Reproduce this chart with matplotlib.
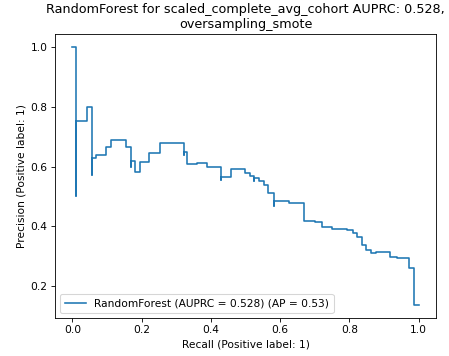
import matplotlib
matplotlib.use("Agg")
import matplotlib.pyplot as plt
import numpy as np

# Precision-recall curve points (increasing recall order)
recall = [0.0, 0.012, 0.012, 0.042, 0.056, 0.056, 0.067, 0.096, 0.111, 0.154,
          0.168, 0.168, 0.181, 0.194, 0.222, 0.252, 0.321, 0.321, 0.330, 0.361,
          0.390, 0.429, 0.429, 0.458, 0.499, 0.513, 0.525, 0.525, 0.540, 0.554,
          0.566, 0.582, 0.582, 0.625, 0.669, 0.700, 0.720, 0.750, 0.792, 0.809,
          0.822, 0.837, 0.849, 0.862, 0.878, 0.918, 0.936, 0.972, 0.987, 1.0]
precision = [1.0, 1.0, 0.50, 0.752, 0.80, 0.572, 0.628, 0.639, 0.667, 0.689,
             0.667, 0.60, 0.620, 0.583, 0.616, 0.644, 0.678, 0.640, 0.650, 0.608,
             0.611, 0.597, 0.556, 0.566, 0.591, 0.580, 0.569, 0.553, 0.561, 0.553,
             0.538, 0.513, 0.468, 0.486, 0.477, 0.418, 0.414, 0.399, 0.392, 0.388,
             0.379, 0.366, 0.338, 0.321, 0.310, 0.315, 0.297, 0.293, 0.260, 0.137]

title = "RandomForest for scaled_complete_avg_cohort AUPRC: 0.528,\noversampling_smote"
legend_label = "RandomForest (AUPRC = 0.528) (AP = 0.53)"

dpi = 76.8
fig = plt.figure(figsize=(449 / dpi, 356 / dpi), dpi=dpi)
ax = fig.add_axes([55 / 449, 38 / 356, 381 / 449, 284 / 356])

# sklearn style: recall decreasing with steps-post
r = np.array(recall)[::-1]
p = np.array(precision)[::-1]
ax.plot(r, p, drawstyle="steps-post", color="C0", label=legend_label)

ax.set_xlabel("Recall (Positive label: 1)")
ax.set_ylabel("Precision (Positive label: 1)")
ax.set_title(title)
ax.legend(loc="lower left")

fig.savefig("out.png", dpi=dpi)
